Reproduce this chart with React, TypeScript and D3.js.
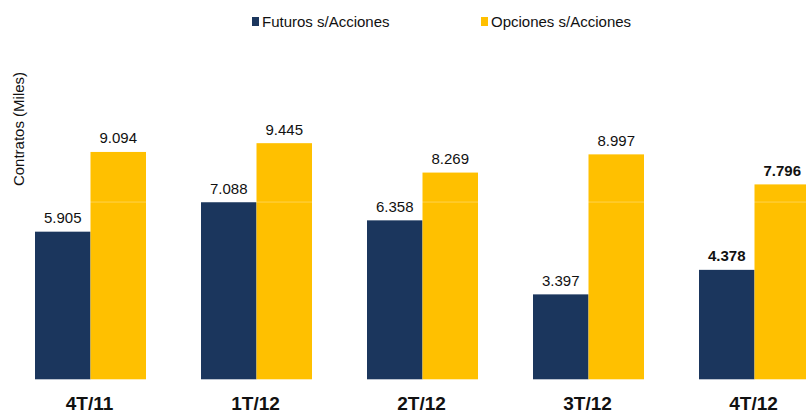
import React from "react";
import * as d3 from "d3";

const categories = ["4T/11", "1T/12", "2T/12", "3T/12", "4T/12"];
const seriesNames = ["Futuros s/Acciones", "Opciones s/Acciones"];
const futuros = [5905, 7088, 6358, 3397, 4378];
const opciones = [9094, 9445, 8269, 8997, 7796];
const boldCategory = ["4T/12"];
const gridValues = [7090];
const colors = ["#1b365d", "#ffc000"];
const yTitle = "Contratos (Miles)";

const W = 806;
const H = 412;

const fmt = (v: number) => {
  const s = String(v);
  return s.length > 3 ? s.slice(0, s.length - 3) + "." + s.slice(s.length - 3) : s;
};

export default function App() {
  const pIn = 55 / 166;
  const x = d3
    .scaleBand<string>()
    .domain(categories)
    .range([7.5, 837.5])
    .paddingInner(pIn)
    .paddingOuter(pIn / 2);
  const xs = d3
    .scaleBand<string>()
    .domain(seriesNames)
    .range([0, x.bandwidth()])
    .padding(0);
  const y = d3.scaleLinear().domain([0, 10000]).range([379.3, 129.3]);
  const data = [futuros, opciones];
  const font = "'Liberation Sans', Arial, sans-serif";
  const narrow = "'Liberation Sans Narrow', 'Arial Narrow', sans-serif";

  return (
    <svg
      width={W}
      height={H}
      style={{ position: "absolute", left: 0, top: 0, background: "#fff" }}
    >
      {/* legend */}
      {seriesNames.map((name, i) => {
        const lx = i === 0 ? 252 : 481;
        return (
          <g key={name}>
            <rect x={lx} y={17} width={7} height={9} fill={colors[i]} />
            <text x={lx + 10} y={26.7} fontFamily={font} fontSize={15} fill="#111">
              {name}
            </text>
          </g>
        );
      })}
      {/* y title */}
      <text
        transform={`translate(23.5,129) rotate(-90)`}
        textAnchor="middle"
        fontFamily={font}
        fontSize={15}
        fill="#111"
      >
        {yTitle}
      </text>
      {/* bars */}
      {categories.map((c, ci) => (
        <g key={c} transform={`translate(${x(c)},0)`}>
          {seriesNames.map((s, si) => {
            const v = data[si][ci];
            return (
              <rect
                key={s}
                x={xs(s)}
                y={y(v)}
                width={xs.bandwidth()}
                height={y(0) - y(v)}
                fill={colors[si]}
              />
            );
          })}
        </g>
      ))}
      {/* faint gridline over bars */}
      {gridValues.map((g) => (
        <line
          key={g}
          x1={0}
          x2={W}
          y1={y(g)}
          y2={y(g)}
          stroke="#ffffff"
          strokeOpacity={0.3}
          strokeWidth={1}
        />
      ))}
      {/* value labels */}
      {categories.map((c, ci) => (
        <g key={c + "l"} transform={`translate(${x(c)},0)`}>
          {seriesNames.map((s, si) => {
            const v = data[si][ci];
            return (
              <text
                key={s}
                x={(xs(s) as number) + xs.bandwidth() / 2}
                y={y(v) - 8.5}
                textAnchor="middle"
                fontFamily={font}
                fontSize={15}
                fontWeight={boldCategory.includes(c) ? "bold" : "normal"}
                fill="#111"
              >
                {fmt(v)}
              </text>
            );
          })}
        </g>
      ))}
      {/* category labels */}
      {categories.map((c) => (
        <text
          key={c + "c"}
          x={(x(c) as number) + x.bandwidth() / 2 - 1}
          y={409.5}
          textAnchor="middle"
          fontFamily={narrow}
          fontStretch="condensed"
          fontWeight="bold"
          fontSize={19}
          fill="#111"
        >
          {c}
        </text>
      ))}
    </svg>
  );
}
